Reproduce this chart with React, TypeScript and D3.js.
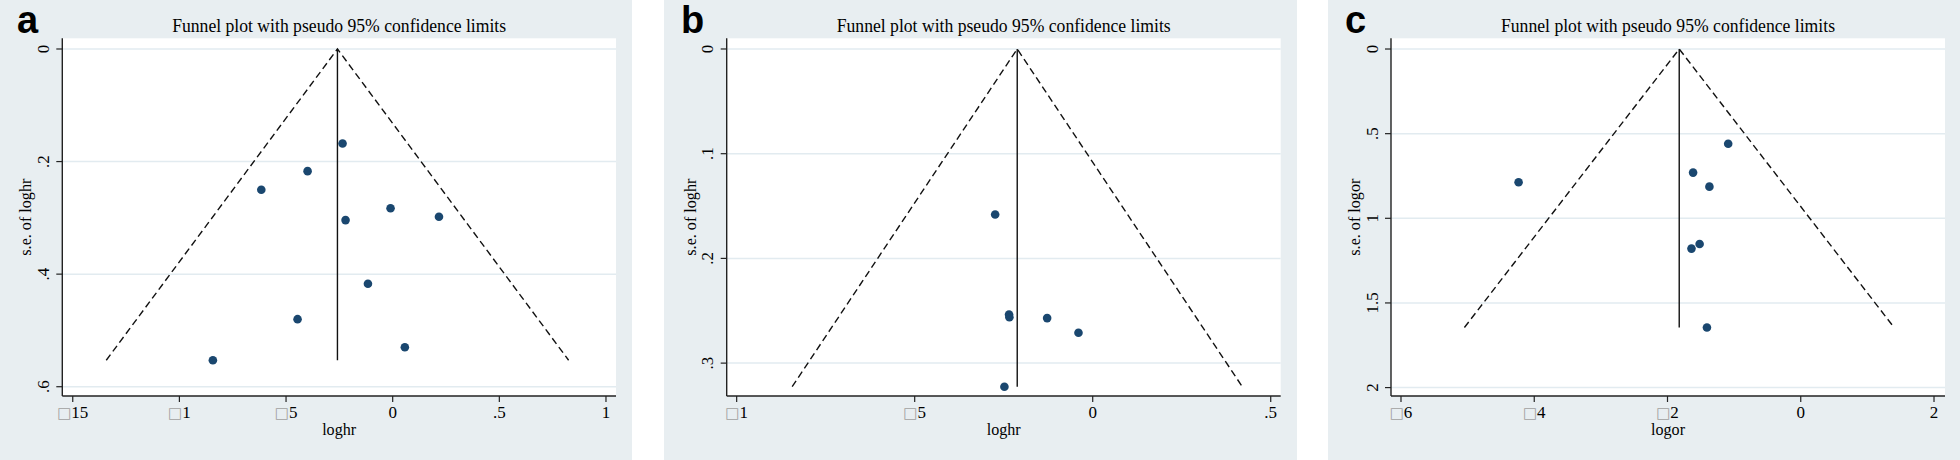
import React from "react";
import * as d3 from "d3";

const W = 1960;
const H = 460;

const LETTERS = ["a", "b", "c"];
const TITLE = "Funnel plot with pseudo 95% confidence limits";
const X_TITLES = ["loghr", "loghr", "logor"];
const Y_TITLES = ["s.e. of loghr", "s.e. of loghr", "s.e. of logor"];

// panel a
const A_EFFECT = [-0.235, -0.399, -0.616, -0.01, -0.221, 0.217, -0.116, -0.446, 0.057, -0.843];
const A_SE = [0.168, 0.217, 0.25, 0.283, 0.304, 0.298, 0.417, 0.48, 0.53, 0.553];
const A_POOLED = -0.259;
const A_X_TICKS = [-1.5, -1, -0.5, 0, 0.5, 1];
const A_X_LABELS = ["□15", "□1", "□5", "0", ".5", "1"];
const A_Y_TICKS = [0, 0.2, 0.4, 0.6];
const A_Y_LABELS = ["0", ".2", ".4", ".6"];

// panel b
const B_EFFECT = [-0.274, -0.235, -0.234, -0.128, -0.04, -0.248];
const B_SE = [0.158, 0.2536, 0.2562, 0.257, 0.271, 0.3225];
const B_POOLED = -0.212;
const B_X_TICKS = [-1, -0.5, 0, 0.5];
const B_X_LABELS = ["□1", "□5", "0", ".5"];
const B_Y_TICKS = [0, 0.1, 0.2, 0.3];
const B_Y_LABELS = ["0", ".1", ".2", ".3"];

// panel c
const C_EFFECT = [-1.089, -1.616, -1.371, -4.235, -1.518, -1.64, -1.408];
const C_SE = [0.56, 0.73, 0.813, 0.787, 1.152, 1.179, 1.645];
const C_POOLED = -1.824;
const C_X_TICKS = [-6, -4, -2, 0, 2];
const C_X_LABELS = ["□6", "□4", "□2", "0", "2"];
const C_Y_TICKS = [0, 0.5, 1, 1.5, 2];
const C_Y_LABELS = ["0", ".5", "1", "1.5", "2"];

const PLOT_TOP = 38.3;
const PLOT_BOTTOM = 396;

const layout = [
  { bg: [0, 632], plot: [62.3, 616], xDomain: [-1.549, 1.047], yDomain: [-0.019, 0.6165] },
  { bg: [664, 1297], plot: [726.7, 1280.7], xDomain: [-1.028, 0.528], yDomain: [-0.0102, 0.3314] },
  { bg: [1328, 1960], plot: [1391, 1945], xDomain: [-6.15, 2.165], yDomain: [-0.0633, 2.0497] },
];

const series = [
  { effect: A_EFFECT, se: A_SE, pooled: A_POOLED, xTicks: A_X_TICKS, xLabels: A_X_LABELS, yTicks: A_Y_TICKS, yLabels: A_Y_LABELS },
  { effect: B_EFFECT, se: B_SE, pooled: B_POOLED, xTicks: B_X_TICKS, xLabels: B_X_LABELS, yTicks: B_Y_TICKS, yLabels: B_Y_LABELS },
  { effect: C_EFFECT, se: C_SE, pooled: C_POOLED, xTicks: C_X_TICKS, xLabels: C_X_LABELS, yTicks: C_Y_TICKS, yLabels: C_Y_LABELS },
];

const PANEL_BG = "#e8eef1";
const GRID = "#e2ebf0";
const DOT = "#1a476f";
const SERIF = "'Liberation Serif', 'Times New Roman', serif";

const tickText = (label: string) =>
  label.startsWith("□") ? (
    <>
      <tspan fill="#a0a0a0" fontFamily="'DejaVu Sans'" fontSize={15}>□</tspan>
      <tspan>{label.slice(1)}</tspan>
    </>
  ) : (
    label
  );

function Panel({ i }: { i: number }) {
  const lay = layout[i];
  const d = series[i];
  const x = d3.scaleLinear().domain(lay.xDomain).range(lay.plot);
  const y = d3.scaleLinear().domain(lay.yDomain).range([PLOT_TOP, PLOT_BOTTOM]);
  const maxSe = d3.max(d.se) as number;
  const half = 1.96 * maxSe;
  const line = d3
    .line<[number, number]>()
    .x((p) => x(p[0]))
    .y((p) => y(p[1]));
  const funnel = line([
    [d.pooled - half, maxSe],
    [d.pooled, 0],
    [d.pooled + half, maxSe],
  ]);
  const [left, right] = lay.plot;
  const midX = (left + right) / 2;
  const midY = (PLOT_TOP + PLOT_BOTTOM) / 2;

  return (
    <g>
      <rect x={lay.bg[0]} y={0} width={lay.bg[1] - lay.bg[0]} height={H} fill={PANEL_BG} />
      <text x={lay.bg[0] + 17} y={33} fontFamily="'Liberation Sans', Arial, sans-serif" fontWeight="bold" fontSize={38}>
        {LETTERS[i]}
      </text>
      <text
        x={midX}
        y={32}
        textAnchor="middle"
        fontFamily={SERIF}
        fontSize={19.5}
        textLength={334}
        lengthAdjust="spacingAndGlyphs"
      >
        {TITLE}
      </text>
      <rect x={left} y={PLOT_TOP} width={right - left} height={PLOT_BOTTOM - PLOT_TOP} fill="#fff" />
      {d.yTicks.map((t) => (
        <line key={"g" + t} x1={left} x2={right} y1={y(t)} y2={y(t)} stroke={GRID} strokeWidth={1.5} />
      ))}
      <path d={funnel || ""} fill="none" stroke="#111" strokeWidth={1.4} strokeDasharray="7,4" />
      <line x1={x(d.pooled)} x2={x(d.pooled)} y1={y(0)} y2={y(maxSe)} stroke="#111" strokeWidth={1.4} />
      {d.effect.map((e, k) => (
        <circle key={k} cx={x(e)} cy={y(d.se[k])} r={4.3} fill={DOT} />
      ))}
      {/* axes */}
      <line x1={left} x2={left} y1={PLOT_TOP} y2={PLOT_BOTTOM} stroke="#222" strokeWidth={1.4} />
      <line x1={left} x2={right} y1={PLOT_BOTTOM} y2={PLOT_BOTTOM} stroke="#222" strokeWidth={1.4} />
      {d.yTicks.map((t, k) => (
        <g key={"y" + t}>
          <line x1={left - 6} x2={left} y1={y(t)} y2={y(t)} stroke="#222" strokeWidth={1.2} />
          <text
            transform={`translate(${left - 13.5},${y(t)}) rotate(-90)`}
            textAnchor="middle"
            fontFamily={SERIF}
            fontSize={17}
          >
            {d.yLabels[k]}
          </text>
        </g>
      ))}
      {d.xTicks.map((t, k) => (
        <g key={"x" + t}>
          <line x1={x(t)} x2={x(t)} y1={PLOT_BOTTOM} y2={PLOT_BOTTOM + 6} stroke="#222" strokeWidth={1.2} />
          <text x={x(t)} y={417.5} textAnchor="middle" fontFamily={SERIF} fontSize={17}>
            {tickText(d.xLabels[k])}
          </text>
        </g>
      ))}
      <text x={midX} y={434.5} textAnchor="middle" fontFamily={SERIF} fontSize={17.5} textLength={34} lengthAdjust="spacingAndGlyphs">
        {X_TITLES[i]}
      </text>
      <text
        transform={`translate(${left - 31},${midY}) rotate(-90)`}
        textAnchor="middle"
        fontFamily={SERIF}
        fontSize={17.5}
        textLength={77}
        lengthAdjust="spacingAndGlyphs"
      >
        {Y_TITLES[i]}
      </text>
    </g>
  );
}

export default function App() {
  return (
    <svg width={W} height={H} style={{ position: "absolute", left: 0, top: 0, display: "block" }}>
      <rect width={W} height={H} fill="#fff" />
      {LETTERS.map((_, i) => (
        <Panel key={i} i={i} />
      ))}
    </svg>
  );
}
